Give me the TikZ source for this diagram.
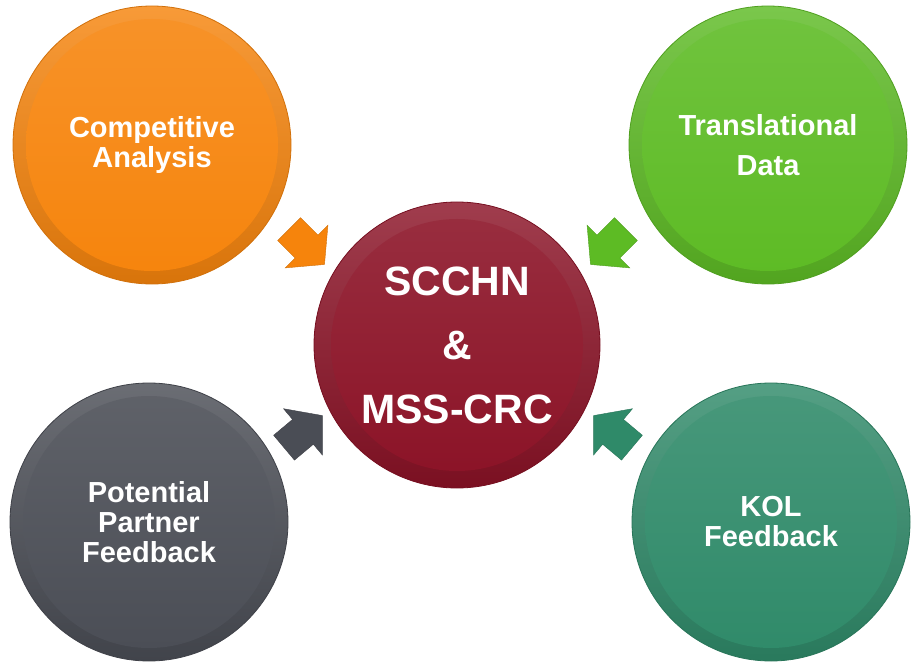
\documentclass[tikz,border=0pt]{standalone}
\usepackage{fontspec}
\setmainfont{Liberation Sans}
\usetikzlibrary{shapes.arrows}

\definecolor{compOrange}{HTML}{F6840C}
\definecolor{transGreen}{HTML}{5DBB24}
\definecolor{partnerGray}{HTML}{4A4D55}
\definecolor{kolTeal}{HTML}{2F8A69}
\definecolor{coreRed}{HTML}{8B1226}

\begin{document}
\begin{tikzpicture}[x=1pt,y=-1pt,
                    bubble/.style={
                               % The shape:
                               circle,minimum size=278pt,inner sep=0pt,
                               % The rest
                               draw=#1!85!black,line width=0.8pt,
                               top color=#1!82!white,bottom color=#1!88!black,
                               path picture={\shade[top color=#1!88!white,bottom color=#1]
                                 (path picture bounding box.center) circle (126pt);},
                               align=center,text=white,
                               font=\bfseries\fontsize{29}{30}\selectfont},
                    pointer/.style={
                               single arrow,rotate=#1,
                               minimum height=50pt,minimum width=60pt,
                               inner sep=16pt,single arrow head extend=14pt,
                               single arrow tip angle=100}]
 \useasboundingbox (0,0) rectangle (914,666);
 % outer bubbles
 \node (comp)    [bubble=compOrange]  at (152,145) {Competitive\\Analysis};
 \node (trans)   [bubble=transGreen]  at (768,145) {Translational\\[10pt]Data};
 \node (partner) [bubble=partnerGray] at (149,522) {Potential\\Partner\\Feedback};
 \node (kol)     [bubble=kolTeal]     at (771,522) {KOL\\Feedback};
 % centre bubble
 \node (core)    [bubble=coreRed,minimum size=286pt,
                  font=\bfseries\fontsize{41}{64}\selectfont] at (457,345)
                 {SCCHN\\\&\\MSS-CRC};
 % block arrows towards the centre
 \node (compArrow)    [pointer=-45,fill=compOrange,draw=compOrange!85!black]   at (302,242) {};
 \node (transArrow)   [pointer=-135,fill=transGreen,draw=transGreen!85!black]  at (613,242) {};
 \node (partnerArrow) [pointer=40,fill=partnerGray,draw=partnerGray!85!black]  at (298,436) {};
 \node (kolArrow)     [pointer=140,fill=kolTeal,draw=kolTeal!85!black]         at (618,436) {};
\end{tikzpicture}
\end{document}
